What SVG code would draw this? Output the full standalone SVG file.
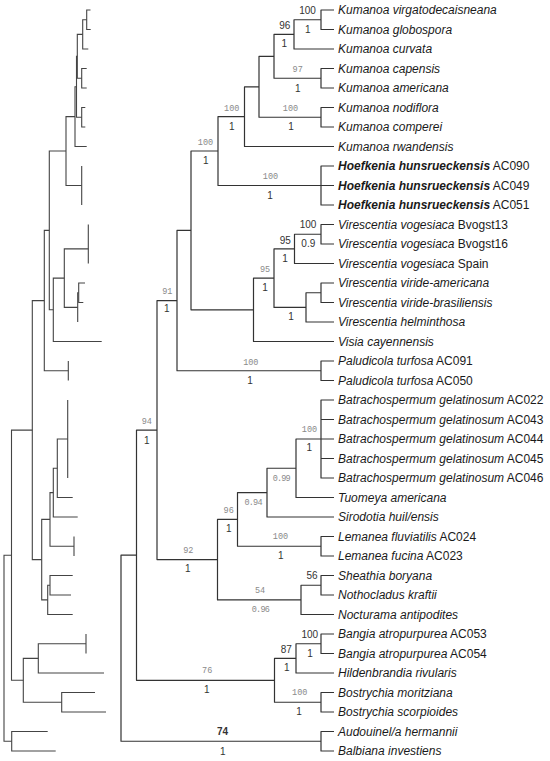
<svg xmlns="http://www.w3.org/2000/svg" width="550" height="761" viewBox="0 0 550 761">
<style>
.br{fill:none;stroke:#333;stroke-width:1.2;stroke-linejoin:round}
.bl{fill:none;stroke:#444;stroke-width:1.1}
.lf{font-family:"Liberation Sans",Arial,sans-serif;font-size:12px;font-style:italic;fill:#1a1a1a}
.lf .n{font-style:normal}
.lf .b{font-weight:bold}
.sd{font-family:"Liberation Sans",Arial,sans-serif;font-size:10px;fill:#333;text-anchor:middle}
.sg{font-family:"Liberation Mono","DejaVu Sans Mono",monospace;font-size:8.5px;fill:#8a8a8a;text-anchor:middle}
</style>
<rect width="550" height="761" fill="#fff"/>
<g id="connectors">
<g id="right-tree" class="br">
<path d="M334 10 H321 V29.5 H334"/>
<path d="M321 19.75 H294 V49 H334"/>
<path d="M334 68.5 H321 V88 H334"/>
<path d="M294 34.4 H274 V78.25 H321"/>
<path d="M334 107.5 H321 V127 H334"/>
<path d="M274 56.3 H259 V117.25 H321"/>
<path d="M259 86.8 H244.5 V146.5 H334"/>
<path d="M334 166 H321 V205 H334 M321 185.5 H334"/>
<path d="M244.5 116.6 H218 V185.5 H321"/>
<path d="M334 224.5 H321 V244 H334"/>
<path d="M321 234.25 H294.5 V263.5 H334"/>
<path d="M334 283 H321 V302.5 H334"/>
<path d="M321 292.75 H306 V322 H334"/>
<path d="M294.5 248.9 H274 V307.4 H306"/>
<path d="M274 278.1 H253.5 V341.5 H334"/>
<path d="M218 151 H191 V309.8 H253.5"/>
<path d="M334 361 H321 V380.5 H334"/>
<path d="M191 230.4 H177 V370.75 H321"/>
<path d="M334 400 H321 V478 H334 M321 419.5 H334 M321 439 H334 M321 458.5 H334"/>
<path d="M321 439 H296 V497.5 H334"/>
<path d="M296 468.25 H267 V517 H334"/>
<path d="M334 536.5 H321 V556 H334"/>
<path d="M267 492.6 H237.5 V546.25 H321"/>
<path d="M334 575.5 H321 V595 H334"/>
<path d="M321 585.25 H301 V614.5 H334"/>
<path d="M237.5 519.4 H217.5 V599.9 H301"/>
<path d="M177 300.6 H157 V559.6 H217.5"/>
<path d="M334 634 H321 V653.5 H334"/>
<path d="M321 643.75 H296 V673 H334"/>
<path d="M334 692.5 H321 V712 H334"/>
<path d="M296 658.4 H274.5 V702.25 H321"/>
<path d="M157 430.1 H136.5 V680.3 H274.5"/>
<path d="M334 731.5 H321 V751 H334"/>
<path d="M136.5 555.2 H121 V741.25 H321"/>
</g>
<g id="left-tree" class="bl">
<path d="M90.5 10 H86.7 V29.5 H90.7"/>
<path d="M86.7 19.75 H82.7 V49 H88.3"/>
<path d="M86.7 68.5 H81.7 V88 H86.7"/>
<path d="M82.7 34.4 H77.3 V78.25 H81.7"/>
<path d="M85.3 107.5 H81.7 V127 H85.3"/>
<path d="M77.3 56.3 H76.5 V117.25 H81.7"/>
<path d="M76.5 86.8 H75 V146.5 H86.7"/>
<path d="M81.7 166 V205"/>
<path d="M75 116.6 H66 V185.5 H81.7"/>
<path d="M88.3 224.5 V263.5"/>
<path d="M85 283 H78.7 V302.5 H83.3"/>
<path d="M78.7 292.75 H77.7 V322"/>
<path d="M88.3 248.9 H64.3 V307.4 H77.7"/>
<path d="M64.3 278.1 H53.3 V341.5 H101.7"/>
<path d="M66 151 H49.3 V309.8 H53.3"/>
<path d="M68.3 361 V380.5"/>
<path d="M49.3 230.4 H44.3 V370.75 H68.3"/>
<path d="M67.7 400 V478"/>
<path d="M67.7 439 H57.3 V497.5 H72.7"/>
<path d="M57.3 468.25 H53.3 V517 H77.7"/>
<path d="M74 536.5 V556"/>
<path d="M53.3 492.6 H50 V546.25 H74"/>
<path d="M72.7 575.5 H50 V595 H71"/>
<path d="M50 585.25 H47.7 V614.5 H72.7"/>
<path d="M50 519.4 H41.7 V599.9 H47.7"/>
<path d="M44.3 300.6 H32.3 V559.6 H41.7"/>
<path d="M86 634 V653.5"/>
<path d="M86 643.75 H38.3 V673 H104"/>
<path d="M95 692.5 H61.7 V712 H106"/>
<path d="M38.3 658.4 H23.3 V702.25 H61.7"/>
<path d="M32.3 430.1 H11.5 V680.3 H23.3"/>
<path d="M47.7 731.5 H11.7 V751 H55.7"/>
<path d="M11.5 555.2 H4 V741.25 H11.7"/>
</g>
</g>
<g id="taxa" class="lf">
<g id="t01"><text x="338" y="14">Kumanoa virgatodecaisneana</text></g>
<g id="t02"><text x="338" y="33.5">Kumanoa globospora</text></g>
<g id="t03"><text x="338" y="53">Kumanoa curvata</text></g>
<g id="t04"><text x="338" y="72.5">Kumanoa capensis</text></g>
<g id="t05"><text x="338" y="92">Kumanoa americana</text></g>
<g id="t06"><text x="338" y="111.5">Kumanoa nodiflora</text></g>
<g id="t07"><text x="338" y="131">Kumanoa comperei</text></g>
<g id="t08"><text x="338" y="150.5">Kumanoa rwandensis</text></g>
<g id="t09"><text x="338" y="170"><tspan class="b">Hoefkenia hunsrueckensis</tspan><tspan class="n"> AC090</tspan></text></g>
<g id="t10"><text x="338" y="189.5"><tspan class="b">Hoefkenia hunsrueckensis</tspan><tspan class="n"> AC049</tspan></text></g>
<g id="t11"><text x="338" y="209"><tspan class="b">Hoefkenia hunsrueckensis</tspan><tspan class="n"> AC051</tspan></text></g>
<g id="t12"><text x="338" y="228.5">Virescentia vogesiaca<tspan class="n"> Bvogst13</tspan></text></g>
<g id="t13"><text x="338" y="248">Virescentia vogesiaca<tspan class="n"> Bvogst16</tspan></text></g>
<g id="t14"><text x="338" y="267.5">Virescentia vogesiaca<tspan class="n"> Spain</tspan></text></g>
<g id="t15"><text x="338" y="287">Virescentia viride-americana</text></g>
<g id="t16"><text x="338" y="306.5">Virescentia viride-brasiliensis</text></g>
<g id="t17"><text x="338" y="326">Virescentia helminthosa</text></g>
<g id="t18"><text x="338" y="345.5">Visia cayennensis</text></g>
<g id="t19"><text x="338" y="365">Paludicola turfosa<tspan class="n"> AC091</tspan></text></g>
<g id="t20"><text x="338" y="384.5">Paludicola turfosa<tspan class="n"> AC050</tspan></text></g>
<g id="t21"><text x="338" y="404">Batrachospermum gelatinosum<tspan class="n"> AC022</tspan></text></g>
<g id="t22"><text x="338" y="423.5">Batrachospermum gelatinosum<tspan class="n"> AC043</tspan></text></g>
<g id="t23"><text x="338" y="443">Batrachospermum gelatinosum<tspan class="n"> AC044</tspan></text></g>
<g id="t24"><text x="338" y="462.5">Batrachospermum gelatinosum<tspan class="n"> AC045</tspan></text></g>
<g id="t25"><text x="338" y="482">Batrachospermum gelatinosum<tspan class="n"> AC046</tspan></text></g>
<g id="t26"><text x="338" y="501.5">Tuomeya americana</text></g>
<g id="t27"><text x="338" y="521">Sirodotia huil/ensis</text></g>
<g id="t28"><text x="338" y="540.5">Lemanea fluviatilis<tspan class="n"> AC024</tspan></text></g>
<g id="t29"><text x="338" y="560">Lemanea fucina<tspan class="n"> AC023</tspan></text></g>
<g id="t30"><text x="338" y="579.5">Sheathia boryana</text></g>
<g id="t31"><text x="338" y="599">Nothocladus kraftii</text></g>
<g id="t32"><text x="338" y="618.5">Nocturama antipodites</text></g>
<g id="t33"><text x="338" y="638">Bangia atropurpurea<tspan class="n"> AC053</tspan></text></g>
<g id="t34"><text x="338" y="657.5">Bangia atropurpurea<tspan class="n"> AC054</tspan></text></g>
<g id="t35"><text x="338" y="677">Hildenbrandia rivularis</text></g>
<g id="t36"><text x="338" y="696.5">Bostrychia moritziana</text></g>
<g id="t37"><text x="338" y="716">Bostrychia scorpioides</text></g>
<g id="t38"><text x="338" y="735.5">Audouinel/a hermannii</text></g>
<g id="t39"><text x="338" y="755">Balbiana investiens</text></g>
</g>
<g id="support">
<text class="sd" x="307.5" y="14.3">100</text>
<text class="sd" x="307.7" y="32.9">1</text>
<text class="sd" x="284.7" y="29.3">96</text>
<text class="sd" x="284.3" y="46.9">1</text>
<text class="sg" x="297.7" y="72">97</text>
<text class="sd" x="297.7" y="91.6">1</text>
<text class="sg" x="290.5" y="110.7">100</text>
<text class="sd" x="291" y="130.3">1</text>
<text class="sg" x="231.7" y="110.7">100</text>
<text class="sd" x="231.7" y="130.3">1</text>
<text class="sg" x="205.5" y="145.3">100</text>
<text class="sd" x="205.7" y="164.3">1</text>
<text class="sg" x="270.5" y="179">100</text>
<text class="sd" x="270" y="198.6">1</text>
<text class="sd" x="308" y="227.9">100</text>
<text class="sd" x="308.3" y="246.9">0.9</text>
<text class="sd" x="285.3" y="243.6">95</text>
<text class="sd" x="285" y="261.9">1</text>
<text class="sg" x="265" y="272">95</text>
<text class="sd" x="265" y="291.3">1</text>
<text class="sd" x="291" y="320.3">1</text>
<text class="sg" x="250.8" y="364.7">100</text>
<text class="sd" x="250" y="383.6">1</text>
<text class="sg" x="167.3" y="294">91</text>
<text class="sd" x="166.7" y="311.9">1</text>
<text class="sg" x="146.8" y="424">94</text>
<text class="sd" x="146.7" y="443.6">1</text>
<text class="sg" x="309.5" y="432.3">100</text>
<text class="sd" x="309.3" y="451.3">1</text>
<text class="sg" x="281.7" y="480.7" textLength="18">0.99</text>
<text class="sg" x="253.5" y="504.7" textLength="18">0.94</text>
<text class="sg" x="280.5" y="539">100</text>
<text class="sd" x="280.7" y="558.6">1</text>
<text class="sg" x="228.7" y="513">96</text>
<text class="sd" x="228.7" y="532.3">1</text>
<text class="sg" x="188.3" y="553">92</text>
<text class="sd" x="187.7" y="571.9">1</text>
<text class="sd" x="312" y="578.6">56</text>
<text class="sg" x="260" y="593">54</text>
<text class="sg" x="260.8" y="612" textLength="18">0.96</text>
<text class="sd" x="309.8" y="637.6">100</text>
<text class="sd" x="310" y="656.9" fill="#666">1</text>
<text class="sd" x="286.3" y="652.6">87</text>
<text class="sd" x="286.7" y="671.3">1</text>
<text class="sg" x="299.7" y="695.3">100</text>
<text class="sd" x="299" y="714.6">1</text>
<text class="sg" x="207.2" y="673">76</text>
<text class="sd" x="206.7" y="692.6">1</text>
<text class="sd" x="222.5" y="735.3" font-weight="bold">74</text>
<text class="sd" x="222.7" y="754.6">1</text>
</g>
</svg>
